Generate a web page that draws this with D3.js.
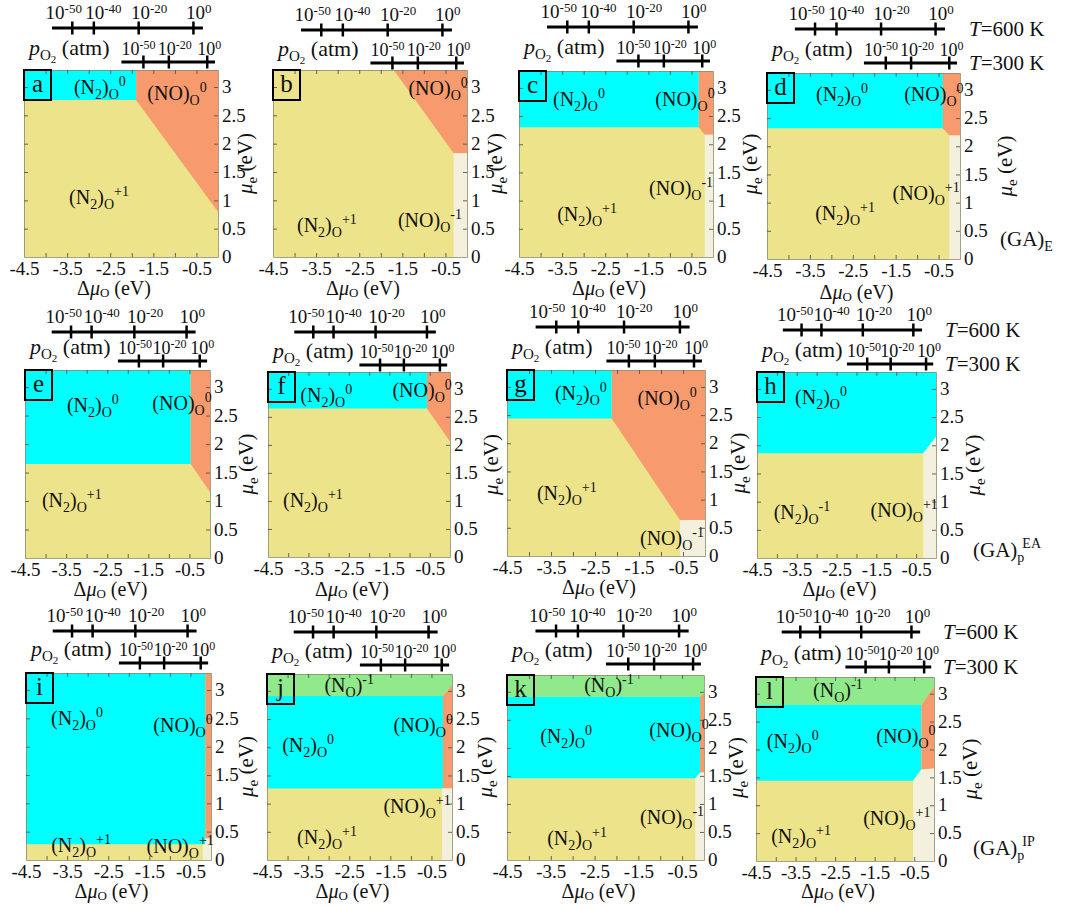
<!DOCTYPE html>
<html><head><meta charset="utf-8">
<script src="https://cdn.jsdelivr.net/npm/d3@7"></script>
<style>
body{margin:0;background:#fff}
svg{display:block}
text{font-family:"Liberation Serif","DejaVu Serif",serif;fill:#111}
</style>
</head><body>
<svg id="chart" width="1081" height="909"></svg>
<script>
// ---------------- data ----------------
const panelLetters = ["a","b","c","d","e","f","g","h","i","j","k","l"];
const xDomain = [-4.5, 0];
const yDomain = [0, 3.3];
const xTickValues = [-4.5, -3.5, -2.5, -1.5, -0.5];
const xMinorValues = [-4, -3.5, -3, -2.5, -2, -1.5, -1, -0.5];
const yTickValues = [0, 0.5, 1, 1.5, 2, 2.5, 3];

// oxygen pressure axes (positions expressed as Δμ_O in eV)
const p600Ticks = [-3.38, -2.88, -1.84, -0.57];
const p600Exps = ["-50", "-40", "-20", "0"];
const p600LabelStarts = [-4.0, -3.08, -2.02, -0.74];
const p600Range = [-3.85, -0.35];
const p300Ticks = [-1.73, -1.14, -0.25];
const p300Exps = ["-50", "-20", "0"];
const p300LabelStarts = [-2.24, -1.40, -0.48];
const p300Range = [-2.24, -0.07];

// phase regions: vertices as [Δμ_O, μ_e]; yellow (N2)O^±1 fills the rest
const regionsA = [
  {k:"cyan",   pts:[[-4.5,3.3],[-1.9,3.3],[-1.9,2.77],[-4.5,2.77]]},
  {k:"orange", pts:[[-1.9,3.3],[0,3.3],[0,0.8],[-1.9,2.77]]}
];
const regionsB = [
  {k:"orange", pts:[[-1.7,3.3],[0,3.3],[0,1.83],[-0.31,1.83]]},
  {k:"pale",   pts:[[-0.31,1.83],[0,1.83],[0,0],[-0.31,0]]}
];
const regionsC = [
  {k:"cyan",   pts:[[-4.5,3.3],[-0.33,3.3],[-0.33,2.30],[-4.5,2.30]]},
  {k:"orange", pts:[[-0.33,3.3],[0,3.3],[0,2.17],[-0.19,2.17],[-0.33,2.30]]},
  {k:"pale",   pts:[[-0.19,2.17],[0,2.17],[0,0],[-0.19,0]]}
];
const regionsD = [
  {k:"cyan",   pts:[[-4.5,3.3],[-0.40,3.3],[-0.40,2.32],[-4.5,2.32]]},
  {k:"orange", pts:[[-0.40,3.3],[0,3.3],[0,2.19],[-0.25,2.19],[-0.40,2.32]]},
  {k:"pale",   pts:[[-0.25,2.19],[0,2.19],[0,0],[-0.25,0]]}
];
const regionsE = [
  {k:"cyan",   pts:[[-4.5,3.3],[-0.47,3.3],[-0.47,1.65],[-4.5,1.65]]},
  {k:"orange", pts:[[-0.47,3.3],[0,3.3],[0,1.16],[-0.47,1.65]]}
];
const regionsF = [
  {k:"cyan",   pts:[[-4.5,3.3],[-0.57,3.3],[-0.57,2.65],[-4.5,2.65]]},
  {k:"orange", pts:[[-0.57,3.3],[0,3.3],[0,2.06],[-0.57,2.65]]}
];
const regionsG = [
  {k:"cyan",   pts:[[-4.5,3.3],[-2.12,3.3],[-2.12,2.44],[-4.5,2.44]]},
  {k:"orange", pts:[[-2.12,3.3],[0,3.3],[0,0.64],[-0.57,0.64],[-2.12,2.44]]},
  {k:"pale",   pts:[[-0.57,0.64],[0,0.64],[0,0],[-0.57,0]]}
];
const regionsH = [
  {k:"cyan",   pts:[[-4.5,3.3],[0,3.3],[0,2.15],[-0.32,1.86],[-4.5,1.86]]},
  {k:"pale",   pts:[[-0.32,1.86],[0,2.15],[0,0],[-0.32,0]]}
];
const regionsI = [
  {k:"cyan",   pts:[[-4.5,3.3],[-0.14,3.3],[-0.14,0.28],[-4.5,0.28]]},
  {k:"orange", pts:[[-0.14,3.3],[0,3.3],[0,0.38],[-0.14,0.38]]},
  {k:"pale",   pts:[[-0.2,0.28],[-0.14,0.28],[-0.14,0.38],[0,0.38],[0,0],[-0.2,0]]}
];
const regionsJ = [
  {k:"green",  pts:[[-4.5,3.3],[0,3.3],[0,3.10],[-0.22,2.91],[-4.5,2.91]]},
  {k:"cyan",   pts:[[-4.5,2.91],[-0.22,2.91],[-0.22,1.27],[-4.5,1.27]]},
  {k:"orange", pts:[[-0.22,2.91],[0,3.10],[0,1.27],[-0.22,1.27]]},
  {k:"pale",   pts:[[-0.24,1.27],[0,1.27],[0,0],[-0.24,0]]}
];
const regionsK = [
  {k:"green",  pts:[[-4.5,3.3],[0,3.3],[0,2.97],[-0.09,2.91],[-4.5,2.91]]},
  {k:"cyan",   pts:[[-4.5,2.91],[-0.09,2.91],[-0.09,1.5],[-0.2,1.46],[-4.5,1.46]]},
  {k:"orange", pts:[[-0.09,2.91],[0,2.97],[0,1.56],[-0.09,1.56]]},
  {k:"pale",   pts:[[-0.2,1.46],[-0.09,1.56],[0,1.56],[0,0],[-0.2,0]]}
];
const regionsL = [
  {k:"green",  pts:[[-4.5,3.3],[0,3.3],[0,3.12],[-0.32,2.80],[-4.5,2.80]]},
  {k:"cyan",   pts:[[-4.5,2.80],[-0.32,2.80],[-0.32,1.64],[-0.53,1.44],[-4.5,1.44]]},
  {k:"orange", pts:[[-0.32,2.80],[0,3.12],[0,1.66],[-0.32,1.64]]},
  {k:"pale",   pts:[[-0.53,1.44],[-0.32,1.64],[0,1.66],[0,0],[-0.53,0]]}
];

// phase labels (centre x, baseline y in data units)
const labelsA = [{t:"N2_0",x:-2.74,y:2.87},{t:"NO_0",x:-0.95,y:2.77},{t:"N2_p1",x:-2.76,y:0.93}];
const labelsB = [{t:"NO_0",x:-0.67,y:2.86},{t:"N2_p1",x:-3.25,y:0.45},{t:"NO_m1",x:-0.86,y:0.53}];
const labelsC = [{t:"N2_0",x:-3.11,y:2.68},{t:"NO_0",x:-0.65,y:2.68},{t:"NO_m1",x:-0.74,y:1.10},{t:"N2_p1",x:-2.92,y:0.64}];
const labelsD = [{t:"N2_0",x:-2.75,y:2.80},{t:"NO_0",x:-0.61,y:2.80},{t:"NO_p1",x:-0.79,y:1.05},{t:"N2_p1",x:-2.68,y:0.69}];
const labelsE = [{t:"N2_0",x:-2.85,y:2.57},{t:"NO_0",x:-0.68,y:2.60},{t:"N2_p1",x:-3.36,y:0.90}];
const labelsF = [{t:"N2_0",x:-3.06,y:2.77},{t:"NO_0",x:-0.69,y:2.86},{t:"N2_p1",x:-3.39,y:0.90}];
const labelsG = [{t:"N2_0",x:-2.82,y:2.77},{t:"NO_0",x:-0.86,y:2.68},{t:"N2_p1",x:-3.14,y:0.99},{t:"NO_m1",x:-0.75,y:0.20}];
const labelsH = [{t:"N2_0",x:-2.89,y:2.74},{t:"N2_m1",x:-3.37,y:0.70},{t:"NO_p1",x:-0.80,y:0.73}];
const labelsI = [{t:"N2_0",x:-3.26,y:2.38},{t:"NO_0",x:-0.68,y:2.26},{t:"N2_p1",x:-3.16,y:0.15},{t:"NO_p1",x:-0.75,y:0.12}];
const labelsJ = [{t:"N_m1",x:-2.50,y:2.98},{t:"N2_0",x:-3.50,y:1.92},{t:"NO_0",x:-0.70,y:2.27},{t:"NO_p1",x:-0.85,y:0.83},{t:"N2_p1",x:-3.04,y:0.29}];
const labelsK = [{t:"N_m1",x:-2.17,y:3.00},{t:"N2_0",x:-3.15,y:2.08},{t:"NO_0",x:-0.57,y:2.20},{t:"NO_m1",x:-0.73,y:0.65},{t:"N2_p1",x:-2.90,y:0.27}];
const labelsL = [{t:"N_m1",x:-2.43,y:2.94},{t:"N2_0",x:-3.57,y:2.02},{t:"NO_0",x:-0.71,y:2.11},{t:"NO_p1",x:-0.94,y:0.65},{t:"N2_p1",x:-3.36,y:0.32}];

const allRegions = [regionsA,regionsB,regionsC,regionsD,regionsE,regionsF,regionsG,regionsH,regionsI,regionsJ,regionsK,regionsL];
const allLabels  = [labelsA,labelsB,labelsC,labelsD,labelsE,labelsF,labelsG,labelsH,labelsI,labelsJ,labelsK,labelsL];

// label text pieces: 0 normal, 1 subscript, 2 superscript, 3 superscript after subscript
const labelParts = {
  N2_0:  [["(N",0],["2",1],[")",0],["O",1],["0",2]],
  N2_p1: [["(N",0],["2",1],[")",0],["O",1],["+1",2]],
  N2_m1: [["(N",0],["2",1],[")",0],["O",1],["-1",2]],
  NO_0:  [["(NO)",0],["O",1],["0",2]],
  NO_p1: [["(NO)",0],["O",1],["+1",2]],
  NO_m1: [["(NO)",0],["O",1],["-1",2]],
  N_m1:  [["(N",0],["O",1],[")",0],["-1",2]]
};
const gaTitles = [
  {panel:3,  parts:[["(GA)",0],["E",1]]},
  {panel:7,  parts:[["(GA)",0],["p",1],["EA",3]]},
  {panel:11, parts:[["(GA)",0],["p",1],["IP",3]]}
];

// ---------------- layout ----------------
const colors = {yellow:"#EDE38B", cyan:"#00FFFF", orange:"#F79B6E", pale:"#F3F1DD", green:"#90EA8C"};
const boxes = [
  {l:24, t:70, r:218,b:257,y6:28, y3:62, yl:34, xt:295},
  {l:273,t:70, r:467,b:257,y6:30, y3:63, yl:35, xt:295},
  {l:519,t:71, r:713,b:257,y6:27, y3:61, yl:44, xt:295},
  {l:767,t:73, r:960,b:259,y6:29, y3:63, yl:52, xt:299},
  {l:25, t:370,r:210,b:558,y6:332,y3:361,yl:43, xt:596},
  {l:268,t:372,r:450,b:557,y6:332,y3:365,yl:48, xt:596},
  {l:507,t:370,r:705,b:556,y6:327,y3:361,yl:40, xt:594},
  {l:757,t:372,r:936,b:558,y6:330,y3:364,yl:44, xt:596},
  {l:26, t:673,r:211,b:860,y6:631,y3:663,yl:42, xt:898},
  {l:267,t:674,r:452,b:860,y6:632,y3:665,yl:40, xt:898},
  {l:507,t:675,r:704,b:860,y6:631,y3:664,yl:39, xt:898},
  {l:756,t:677,r:934,b:861,y6:632,y3:667,yl:43, xt:898}
];
const gaOffsets = [{dx:40,dy:-13},{dx:37,dy:-1},{dx:39,dy:-6}];

const svg = d3.select("#chart");

function richText(sel, parts, size, subSize, subDy, supDy) {
  let cur = 0;
  parts.forEach(([s, kind]) => {
    const target = kind === 0 ? 0 : kind === 1 ? subDy : supDy;
    const ts = sel.append("tspan").text(s)
      .attr("font-size", kind === 0 ? size : subSize)
      .attr("dy", target - cur);
    if (kind === 3) ts.attr("dx", -2);
    cur = target;
  });
}

panelLetters.forEach((letter, i) => {
  const b = boxes[i];
  const x = d3.scaleLinear().domain(xDomain).range([b.l, b.r]);
  const y = d3.scaleLinear().domain(yDomain).range([b.b, b.t]);
  const g = svg.append("g");

  // background phase
  g.append("rect").attr("x", b.l).attr("y", b.t)
    .attr("width", b.r - b.l).attr("height", b.b - b.t).attr("fill", colors.yellow);
  const line = d3.line().x(d => x(d[0])).y(d => y(d[1]));
  g.selectAll("path.reg").data(allRegions[i]).join("path")
    .attr("class", "reg").attr("d", d => line(d.pts) + "Z")
    .attr("fill", d => colors[d.k]);

  // inward minor ticks on the frame
  const tickStyle = s => {
    s.select(".domain").attr("stroke", "#8a8a6a").attr("stroke-width", 0.8);
    s.selectAll(".tick line").attr("stroke", "#555").attr("stroke-width", 0.9);
    s.selectAll(".tick text").remove();
  };
  g.append("g").attr("transform", `translate(0,${b.b})`)
    .call(d3.axisBottom(x).tickValues(xMinorValues).tickSize(-4).tickSizeOuter(0)).call(tickStyle);
  g.append("g").attr("transform", `translate(0,${b.t})`)
    .call(d3.axisTop(x).tickValues(xMinorValues).tickSize(-4).tickSizeOuter(0)).call(tickStyle);
  g.append("g").attr("transform", `translate(${b.l},0)`)
    .call(d3.axisLeft(y).tickValues(yTickValues.slice(1)).tickSize(-4).tickSizeOuter(0)).call(tickStyle);
  g.append("g").attr("transform", `translate(${b.r},0)`)
    .call(d3.axisRight(y).tickValues(yTickValues.slice(1)).tickSize(-4).tickSizeOuter(0)).call(tickStyle);

  // tick labels
  const xl = g.append("g").attr("transform", `translate(0,${b.b})`)
    .call(d3.axisBottom(x).tickValues(xTickValues).tickSize(0).tickPadding(0)
      .tickFormat(d => d.toFixed(1)));
  xl.select(".domain").remove();
  xl.selectAll(".tick text").attr("font-size", 19).attr("font-family", '"Liberation Serif",serif')
    .attr("fill", "#111").attr("dy", null).attr("y", 18);
  const yl = g.append("g").attr("transform", `translate(${b.r},0)`)
    .call(d3.axisRight(y).tickValues(yTickValues).tickSize(0).tickPadding(4)
      .tickFormat(d => String(d)));
  yl.select(".domain").remove();
  yl.selectAll(".tick text").attr("font-size", 19).attr("font-family", '"Liberation Serif",serif')
    .attr("fill", "#111").attr("dy", "0.3em");

  // axis titles
  const xt = g.append("text").attr("x", (b.l + b.r) / 2 - 7).attr("y", b.xt)
    .attr("text-anchor", "middle").attr("font-size", 20);
  xt.append("tspan").text("Δ");
  xt.append("tspan").text("μ").attr("font-style", "italic");
  xt.append("tspan").text("O").attr("font-size", 13).attr("dy", 2);
  xt.append("tspan").text(" (eV)").attr("dy", -2);
  const yt = g.append("text")
    .attr("transform", `translate(${b.r + b.yl},${(b.t + b.b) / 2}) rotate(-90)`)
    .attr("text-anchor", "middle").attr("font-size", 21);
  yt.append("tspan").text("μ").attr("font-style", "italic");
  yt.append("tspan").text("e").attr("font-size", 15).attr("dy", 5);
  yt.append("tspan").text(" (eV)").attr("dy", -5);

  // phase labels
  allLabels[i].forEach(lb => {
    const t = g.append("text").attr("x", x(lb.x)).attr("y", y(lb.y))
      .attr("text-anchor", "middle").attr("font-size", 20);
    richText(t, labelParts[lb.t], 20, 14, 5, -8);
  });

  // panel letter box
  g.append("rect").attr("x", b.l).attr("y", b.t).attr("width", 27).attr("height", 30)
    .attr("fill", "none").attr("stroke", "#000").attr("stroke-width", 2);
  g.append("text").attr("x", b.l + 13.5).attr("y", b.t + 22).attr("text-anchor", "middle")
    .attr("font-size", 25).text(letter);

  // oxygen pressure axes
  const pAxis = (yy, range, ticks, exps, starts, fs, labDy) => {
    g.append("line").attr("x1", x(range[0])).attr("x2", x(range[1]))
      .attr("y1", yy).attr("y2", yy).attr("stroke", "#000").attr("stroke-width", 3);
    g.selectAll(null).data(ticks).join("line")
      .attr("x1", d => x(d)).attr("x2", d => x(d))
      .attr("y1", yy - 6.5).attr("y2", yy + 6.5).attr("stroke", "#000").attr("stroke-width", 2.5);
    starts.forEach((d, j) => {
      const t = g.append("text").attr("x", x(d)).attr("y", yy + labDy)
        .attr("font-size", fs);
      t.append("tspan").text("10");
      t.append("tspan").text(exps[j]).attr("font-size", fs - 6).attr("dy", -6);
    });
  };
  pAxis(b.y6, p600Range, p600Ticks, p600Exps, p600LabelStarts, 19, -9);
  pAxis(b.y3, p300Range, p300Ticks, p300Exps, p300LabelStarts, 18, -7);

  const pl = g.append("text").attr("x", b.l + 5).attr("y", b.y3 - 7).attr("font-size", 22);
  pl.append("tspan").text("p").attr("font-style", "italic");
  pl.append("tspan").text("O").attr("font-size", 15).attr("dy", 5);
  pl.append("tspan").text("2").attr("font-size", 11).attr("dy", 3);
  pl.append("tspan").text(" (atm)").attr("dy", -8);

  if (i % 4 === 3) {
    [[b.y6, "=600 K"], [b.y3, "=300 K"]].forEach(([yy, s]) => {
      const t = g.append("text").attr("x", b.r + 9).attr("y", yy + 7).attr("font-size", 21);
      t.append("tspan").text("T").attr("font-style", "italic");
      t.append("tspan").text(s);
    });
  }
});

gaTitles.forEach((ga, j) => {
  const b = boxes[ga.panel];
  const t = svg.append("text").attr("x", b.r + gaOffsets[j].dx).attr("y", b.b + gaOffsets[j].dy)
    .attr("font-size", 21);
  richText(t, ga.parts, 21, 14, 5, -9);
});
</script>
</body></html>
